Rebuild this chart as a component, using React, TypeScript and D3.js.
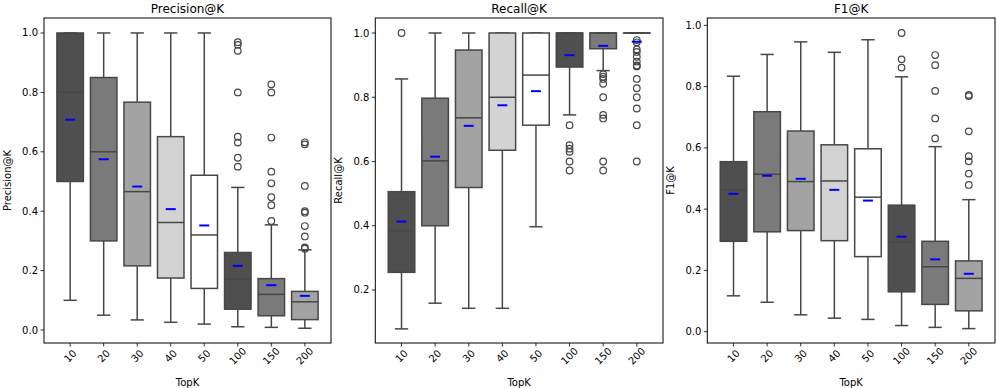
import React, { useEffect, useRef } from 'react';
import * as d3 from 'd3';

const categories = ['10', '20', '30', '40', '50', '100', '150', '200'];
const boxColors = ['#4f4f4f', '#7a7a7a', '#a3a3a3', '#d3d3d3', '#ffffff', '#4f4f4f', '#7a7a7a', '#a3a3a3'];

// Precision@K
const precLow = [0.10, 0.05, 0.034, 0.026, 0.02, 0.011, 0.009, 0.006];
const precQ1 = [0.50, 0.30, 0.216, 0.175, 0.14, 0.07, 0.048, 0.035];
const precMed = [0.80, 0.60, 0.466, 0.362, 0.32, 0.171, 0.12, 0.095];
const precQ3 = [1.0, 0.85, 0.767, 0.651, 0.521, 0.261, 0.173, 0.13];
const precHigh = [1.0, 1.0, 1.0, 1.0, 1.0, 0.48, 0.354, 0.27];
const precMean = [0.708, 0.575, 0.483, 0.407, 0.352, 0.216, 0.151, 0.115];
const precOut = [
  [], [], [], [], [],
  [0.969, 0.96, 0.94, 0.80, 0.651, 0.631, 0.58, 0.55],
  [0.827, 0.80, 0.648, 0.533, 0.494, 0.447, 0.42, 0.367],
  [0.632, 0.625, 0.485, 0.40, 0.395, 0.35, 0.315, 0.278, 0.274],
];

// Recall@K
const recLow = [0.079, 0.159, 0.143, 0.143, 0.397, 0.745, 0.883, 1.0];
const recQ1 = [0.255, 0.40, 0.519, 0.635, 0.713, 0.894, 0.951, 1.0];
const recMed = [0.384, 0.602, 0.736, 0.80, 0.869, 1.0, 1.0, 1.0];
const recQ3 = [0.506, 0.797, 0.947, 1.0, 1.0, 1.0, 1.0, 1.0];
const recHigh = [0.857, 1.0, 1.0, 1.0, 1.0, 1.0, 1.0, 1.0];
const recMean = [0.413, 0.615, 0.711, 0.775, 0.819, 0.931, 0.96, 0.973];
const recOut = [
  [1.0], [], [], [], [],
  [0.713, 0.651, 0.64, 0.63, 0.60, 0.572],
  [0.872, 0.864, 0.857, 0.842, 0.80, 0.745, 0.734, 0.60, 0.572],
  [0.978, 0.971, 0.949, 0.941, 0.926, 0.911, 0.899, 0.896, 0.857, 0.828, 0.80, 0.765, 0.713, 0.60],
];

// F1@K
const f1Low = [0.117, 0.096, 0.055, 0.044, 0.04, 0.02, 0.014, 0.01];
const f1Q1 = [0.295, 0.326, 0.33, 0.297, 0.245, 0.13, 0.089, 0.068];
const f1Med = [0.463, 0.514, 0.49, 0.492, 0.439, 0.292, 0.212, 0.174];
const f1Q3 = [0.555, 0.718, 0.655, 0.61, 0.597, 0.413, 0.295, 0.231];
const f1High = [0.834, 0.905, 0.946, 0.912, 0.953, 0.832, 0.604, 0.431];
const f1Mean = [0.45, 0.509, 0.499, 0.463, 0.428, 0.31, 0.236, 0.189];
const f1Out = [
  [], [], [], [], [],
  [0.975, 0.889, 0.862],
  [0.903, 0.87, 0.786, 0.696, 0.631],
  [0.773, 0.769, 0.654, 0.573, 0.556, 0.516, 0.479],
];

const panels = [
  { title: 'Precision@K', left: 44, right: 331, yDomain: [-0.0437, 1.0504], yTicks: [0, 0.2, 0.4, 0.6, 0.8, 1.0],
    low: precLow, q1: precQ1, med: precMed, q3: precQ3, high: precHigh, mean: precMean, out: precOut },
  { title: 'Recall@K', left: 375.3, right: 663, yDomain: [0.035, 1.0467], yTicks: [0.2, 0.4, 0.6, 0.8, 1.0],
    low: recLow, q1: recQ1, med: recMed, q3: recQ3, high: recHigh, mean: recMean, out: recOut },
  { title: 'F1@K', left: 707.3, right: 995, yDomain: [-0.037, 1.024], yTicks: [0, 0.2, 0.4, 0.6, 0.8, 1.0],
    low: f1Low, q1: f1Q1, med: f1Med, q3: f1Q3, high: f1High, mean: f1Mean, out: f1Out },
];

const W = 996;
const H = 388;
const TOP = 18;
const BOTTOM = 343;
const FONT = 'DejaVu Sans, sans-serif';
const LINE = '#474747';

export default function App() {
  const svgRef = useRef<SVGSVGElement>(null);

  useEffect(() => {
    const svg = d3.select(svgRef.current);
    svg.selectAll('*').remove();

    panels.forEach((p) => {
      const x = d3.scaleLinear().domain([-0.78, categories.length - 1 + 0.78]).range([p.left, p.right]);
      const y = d3.scaleLinear().domain(p.yDomain).range([BOTTOM, TOP]);
      const step = x(1) - x(0);
      const bw = step * 0.79;
      const g = svg.append('g');

      categories.forEach((c, i) => {
        const cx = x(i);
        // whiskers
        g.append('line').attr('x1', cx).attr('x2', cx).attr('y1', y(p.q1[i])).attr('y2', y(p.low[i]))
          .attr('stroke', LINE).attr('stroke-width', 1.5);
        g.append('line').attr('x1', cx).attr('x2', cx).attr('y1', y(p.q3[i])).attr('y2', y(p.high[i]))
          .attr('stroke', LINE).attr('stroke-width', 1.5);
        [p.low[i], p.high[i]].forEach((v) => {
          g.append('line').attr('x1', cx - bw / 4).attr('x2', cx + bw / 4).attr('y1', y(v)).attr('y2', y(v))
            .attr('stroke', LINE).attr('stroke-width', 1.5);
        });
        // box
        g.append('rect').attr('x', cx - bw / 2).attr('width', bw)
          .attr('y', y(p.q3[i])).attr('height', Math.max(0.01, y(p.q1[i]) - y(p.q3[i])))
          .attr('fill', boxColors[i]).attr('stroke', LINE).attr('stroke-width', 1.5);
        // median
        g.append('line').attr('x1', cx - bw / 2).attr('x2', cx + bw / 2).attr('y1', y(p.med[i])).attr('y2', y(p.med[i]))
          .attr('stroke', LINE).attr('stroke-width', 1.5);
        // outliers
        g.selectAll(null).data(p.out[i]).enter().append('circle')
          .attr('cx', cx).attr('cy', (d) => y(d)).attr('r', 3.3)
          .attr('fill', 'none').attr('stroke', LINE).attr('stroke-width', 1.2);
        // mean
        g.append('line').attr('x1', cx - 5).attr('x2', cx + 5).attr('y1', y(p.mean[i])).attr('y2', y(p.mean[i]))
          .attr('stroke', '#0000ff').attr('stroke-width', 2);
      });

      // frame
      g.append('rect').attr('x', p.left).attr('y', TOP).attr('width', p.right - p.left).attr('height', BOTTOM - TOP)
        .attr('fill', 'none').attr('stroke', '#000').attr('stroke-width', 1);

      // y axis ticks
      p.yTicks.forEach((t) => {
        g.append('line').attr('x1', p.left - 3.5).attr('x2', p.left).attr('y1', y(t)).attr('y2', y(t))
          .attr('stroke', '#000').attr('stroke-width', 0.8);
        g.append('text').attr('x', p.left - 6).attr('y', y(t)).attr('dy', '0.35em')
          .attr('text-anchor', 'end').attr('font-family', FONT).attr('font-size', 10).attr('fill', '#000')
          .text(t.toFixed(1));
      });

      // x axis ticks
      categories.forEach((c, i) => {
        g.append('line').attr('x1', x(i)).attr('x2', x(i)).attr('y1', BOTTOM).attr('y2', BOTTOM + 3.5)
          .attr('stroke', '#000').attr('stroke-width', 0.8);
        g.append('text')
          .attr('transform', `translate(${x(i)},${BOTTOM + 13}) rotate(-45)`)
          .attr('text-anchor', 'middle').attr('dy', '0.35em')
          .attr('font-family', FONT).attr('font-size', 10).attr('fill', '#000')
          .text(c);
      });

      // labels
      g.append('text').attr('x', (p.left + p.right) / 2).attr('y', 13)
        .attr('text-anchor', 'middle').attr('font-family', FONT).attr('font-size', 12).attr('fill', '#000')
        .text(p.title);
      g.append('text').attr('x', (p.left + p.right) / 2).attr('y', 386)
        .attr('text-anchor', 'middle').attr('font-family', FONT).attr('font-size', 10).attr('fill', '#000')
        .text('TopK');
      g.append('text').attr('transform', `translate(${p.left - 33},${(TOP + BOTTOM) / 2}) rotate(-90)`)
        .attr('text-anchor', 'middle').attr('font-family', FONT).attr('font-size', 10).attr('fill', '#000')
        .text(p.title);
    });
  }, []);

  return (
    <svg ref={svgRef} width={W} height={H}
      style={{ position: 'absolute', left: 0, top: 0, background: '#fff' }} />
  );
}
